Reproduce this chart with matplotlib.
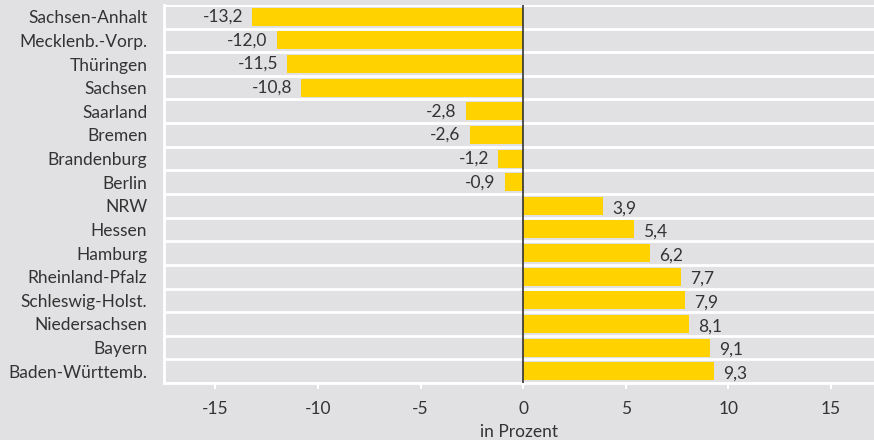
import matplotlib
matplotlib.use("Agg")
import matplotlib.pyplot as plt
import numpy as np

# Dataset
laender = ["Sachsen-Anhalt", "Mecklenb.-Vorp.", "Thüringen", "Sachsen", "Saarland",
           "Bremen", "Brandenburg", "Berlin", "NRW", "Hessen", "Hamburg",
           "Rheinland-Pfalz", "Schleswig-Holst.", "Niedersachsen", "Bayern",
           "Baden-Württemb."]
werte = [-13.2, -12.0, -11.5, -10.8, -2.8, -2.6, -1.2, -0.9, 3.9, 5.4, 6.2,
         7.7, 7.9, 8.1, 9.1, 9.3]
xticks = [-15, -10, -5, 0, 5, 10, 15]

bg = "#e1e1e3"
gelb = "#ffd200"
txt = "#333333"

plt.rcParams['font.family'] = ['Lato', 'DejaVu Sans']
plt.rcParams['font.size'] = 12.5

fig = plt.figure(figsize=(8.74, 4.40), dpi=100, facecolor=bg)
ax = fig.add_axes([164 / 874, 1 - 383 / 440, 1 - 164 / 874, 378 / 440])
ax.set_facecolor(bg)

y = np.arange(len(laender))
ax.barh(y, werte, height=0.76, color=gelb, zorder=3)
ax.axvline(0, color="#333333", lw=1.2, zorder=4)

# row separators
for b in np.arange(-0.5, len(laender), 1.0):
    ax.axhline(b, color="white", lw=2, zorder=2)

# value labels
for yi, v in zip(y, werte):
    s = ("%.1f" % v).replace(".", ",")
    if v < 0:
        ax.text(v - 0.45, yi, s, ha="right", va="center", color=txt, zorder=5)
    else:
        ax.text(v + 0.45, yi + 0.1, s, ha="left", va="center", color=txt, zorder=5)

ax.set_ylim(len(laender) - 0.5, -0.5)
ax.set_xlim(-17.5, 17.1)
ax.set_yticks(y)
ax.set_yticklabels(laender, color=txt)
ax.set_xticks(xticks)
ax.set_xticklabels([str(t) for t in xticks], color=txt)
ax.tick_params(axis="y", length=0, pad=12)
ax.tick_params(axis="x", length=4, width=1.5, color="white", pad=9)
ax.set_xlabel("in Prozent", color=txt, labelpad=5)

for side in ["top", "right"]:
    ax.spines[side].set_visible(False)
ax.spines["left"].set_color("white")
ax.spines["left"].set_linewidth(2)
ax.spines["bottom"].set_color("white")
ax.spines["bottom"].set_linewidth(2)

fig.savefig("out.png", dpi=100, facecolor=bg)
